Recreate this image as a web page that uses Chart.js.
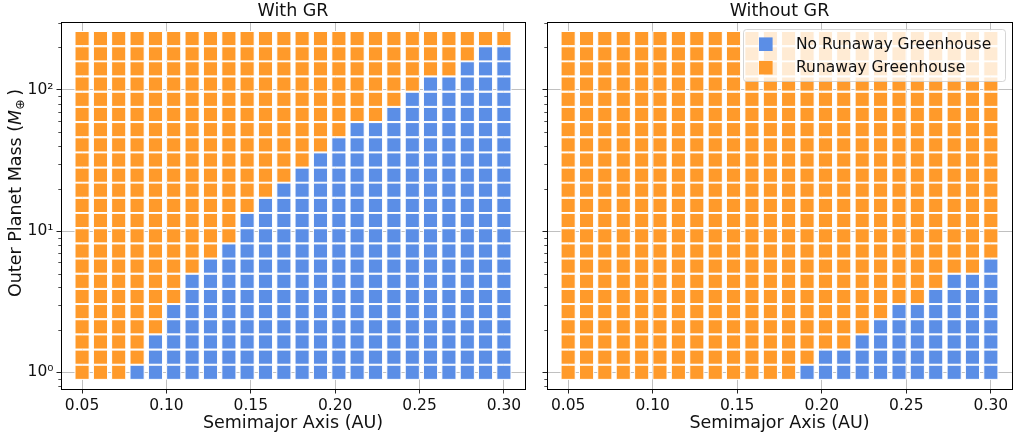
<!DOCTYPE html>
<html>
<head>
<meta charset="utf-8">
<script src="https://cdn.jsdelivr.net/npm/chart.js@4/dist/chart.umd.min.js"></script>
<style>
  html, body { margin: 0; padding: 0; background: #fff; }
  #wrap { position: relative; width: 1024px; height: 442px; }
  .panel { position: absolute; top: 0; height: 442px; }
  #left { left: 0; width: 536px; }
  #right { left: 536px; width: 488px; }
</style>
</head>
<body>
<div id="wrap">
  <div class="panel" id="left"><canvas id="withGR"></canvas></div>
  <div class="panel" id="right"><canvas id="withoutGR"></canvas></div>
</div>
<script>
// grid of simulations: semimajor axis (AU) x outer planet mass (Earth masses)
const semimajorAxis = [0.0500, 0.0609, 0.0717, 0.0826, 0.0935, 0.1043, 0.1152, 0.1261,
  0.1370, 0.1478, 0.1587, 0.1696, 0.1804, 0.1913, 0.2022, 0.2130,
  0.2239, 0.2348, 0.2457, 0.2565, 0.2674, 0.2783, 0.2891, 0.3000];
const outerMass = [1.00, 1.28, 1.64, 2.10, 2.69, 3.44, 4.41, 5.65, 7.23, 9.26, 11.9, 15.2,
  19.5, 24.9, 31.9, 40.8, 52.3, 67.0, 85.8, 110, 141, 180, 231];
// number of mass rows (from the lowest mass up) without a runaway greenhouse, per column
const stableRowsGR = [0, 0, 0, 1, 3, 5, 7, 8, 9, 11, 12, 13, 14, 15, 16, 17, 17, 18, 19, 20, 20, 21, 22, 22];
const stableRowsNoGR = [0, 0, 0, 0, 0, 0, 0, 0, 0, 0, 0, 0, 0, 1, 2, 2, 3, 4, 5, 5, 6, 7, 7, 8];

const xTicks = [0.05, 0.10, 0.15, 0.20, 0.25, 0.30];
const yMajorTicks = [1, 10, 100];
const yMinorTicks = [0.8, 0.9, 2, 3, 4, 5, 6, 7, 8, 9, 20, 30, 40, 50, 60, 70, 80, 90, 200, 300];
const yTickLabels = { 1: '10⁰', 10: '10¹', 100: '10²' };

const BLUE = '#5B8EE6';
const ORANGE = '#FF9A2A';
const FONT = 'DejaVu Sans';
const TEXT = '#111';

function buildPoints(stableRows) {
  const blue = [], orange = [];
  semimajorAxis.forEach((a, i) => {
    outerMass.forEach((m, j) => {
      (j < stableRows[i] ? blue : orange).push({ x: a, y: m });
    });
  });
  return [blue, orange];
}

const panelDecor = {
  id: 'panelDecor',
  afterDraw(chart, args, opts) {
    const ctx = chart.ctx;
    const ca = chart.chartArea;
    const yScale = chart.scales.y;
    ctx.save();

    // minor ticks on the log axis
    ctx.strokeStyle = '#222';
    ctx.lineWidth = 0.8;
    yMinorTicks.forEach(v => {
      const py = Math.round(yScale.getPixelForValue(v)) + 0.5;
      if (py < ca.top || py > ca.bottom) return;
      ctx.beginPath();
      ctx.moveTo(ca.left - 2.7, py);
      ctx.lineTo(ca.left, py);
      ctx.stroke();
    });

    // frame
    ctx.strokeStyle = '#000';
    ctx.lineWidth = 1;
    ctx.strokeRect(Math.round(ca.left) + 0.5, Math.round(ca.top) + 0.5,
      Math.round(ca.right - ca.left), Math.round(ca.bottom - ca.top));

    const cx = (ca.left + ca.right) / 2;
    ctx.fillStyle = TEXT;
    ctx.textAlign = 'center';
    ctx.textBaseline = 'middle';
    ctx.font = '17.5px "' + FONT + '"';
    ctx.fillText(opts.title, cx, 11);
    ctx.fillText('Semimajor Axis (AU)', cx, 423);

    if (opts.yTitle) {
      ctx.save();
      ctx.translate(14.5, 193);
      ctx.rotate(-Math.PI / 2);
      const parts = [
        { t: 'Outer Planet Mass (', f: '17.5px "' + FONT + '"', dy: 0 },
        { t: 'M', f: 'italic 17.5px "' + FONT + '"', dy: 0 },
        { t: '⊕', f: '12.5px "' + FONT + '"', dy: 3.5 },
        { t: '\u2009)', f: '17.5px "' + FONT + '"', dy: 0 }
      ];
      let total = 0;
      parts.forEach(p => { ctx.font = p.f; p.w = ctx.measureText(p.t).width; total += p.w; });
      let x = -total / 2;
      ctx.textAlign = 'left';
      ctx.textBaseline = 'alphabetic';
      parts.forEach(p => {
        ctx.font = p.f;
        ctx.fillText(p.t, x, 6.4 + p.dy);
        x += p.w;
      });
      ctx.restore();
    }

    if (opts.legend) {
      const bw = 262, bh = 52;
      const bx = ca.right - 7 - bw, by = ca.top + 7;
      ctx.beginPath();
      if (ctx.roundRect) ctx.roundRect(bx + 0.5, by + 0.5, bw, bh, 3);
      else ctx.rect(bx + 0.5, by + 0.5, bw, bh);
      ctx.fillStyle = 'rgba(255,255,255,0.8)';
      ctx.fill();
      ctx.strokeStyle = 'rgba(204,204,204,0.8)';
      ctx.lineWidth = 1;
      ctx.stroke();
      ctx.font = '15.5px "' + FONT + '"';
      ctx.textAlign = 'left';
      ctx.textBaseline = 'middle';
      chart.data.datasets.forEach((ds, i) => {
        const my = by + 15.2 + i * 23.5;
        ctx.fillStyle = ds.backgroundColor;
        ctx.fillRect(bx + 22.8 - 6.8, my - 6.8, 13.6, 13.6);
        ctx.fillStyle = TEXT;
        ctx.fillText(ds.label, bx + 53, my + 0.5);
      });
    }
    ctx.restore();
  }
};

function makeChart(id, title, stableRows, isLeft) {
  const [blue, orange] = buildPoints(stableRows);
  const pointOpts = { pointStyle: 'rect', pointRadius: 10, borderColor: '#fff', borderWidth: 1 };
  return new Chart(document.getElementById(id), {
    type: 'scatter',
    data: {
      datasets: [
        Object.assign({ label: 'No Runaway Greenhouse', data: blue, backgroundColor: BLUE }, pointOpts),
        Object.assign({ label: 'Runaway Greenhouse', data: orange, backgroundColor: ORANGE }, pointOpts)
      ]
    },
    options: {
      responsive: true,
      maintainAspectRatio: false,
      animation: false,
      events: [],
      layout: { padding: { top: 22, left: 0, bottom: 0, right: isLeft ? 7 : 12 } },
      plugins: {
        legend: { display: false },
        tooltip: { enabled: false },
        panelDecor: { title: title, yTitle: isLeft, legend: !isLeft }
      },
      scales: {
        x: {
          type: 'linear',
          min: 0.0375,
          max: 0.3125,
          z: 1,
          afterBuildTicks: s => { s.ticks = xTicks.map(v => ({ value: v })); },
          afterFit: s => { s.height = 53; },
          ticks: {
            autoSkip: false, maxRotation: 0, padding: 3, color: TEXT,
            font: { family: FONT, size: 15.5 },
            callback: v => Number(v).toFixed(2)
          },
          grid: { color: '#b0b0b0', lineWidth: 0.8, tickColor: '#222', tickWidth: 1, tickLength: 4.5 },
          border: { display: false }
        },
        y: {
          type: 'logarithmic',
          min: 0.7616,
          max: 302.7,
          z: 1,
          afterBuildTicks: s => { s.ticks = yMajorTicks.map(v => ({ value: v })); },
          afterFit: s => { s.width = isLeft ? 61 : 7; },
          ticks: {
            display: isLeft, autoSkip: false, padding: 3, color: TEXT,
            font: { family: FONT, size: 15.5 },
            callback: v => yTickLabels[v] || ''
          },
          grid: { color: '#b0b0b0', lineWidth: 0.8, tickColor: '#222', tickWidth: 1, tickLength: 4.5 },
          border: { display: false }
        }
      }
    },
    plugins: [panelDecor]
  });
}

makeChart('withGR', 'With GR', stableRowsGR, true);
makeChart('withoutGR', 'Without GR', stableRowsNoGR, false);
</script>
</body>
</html>
